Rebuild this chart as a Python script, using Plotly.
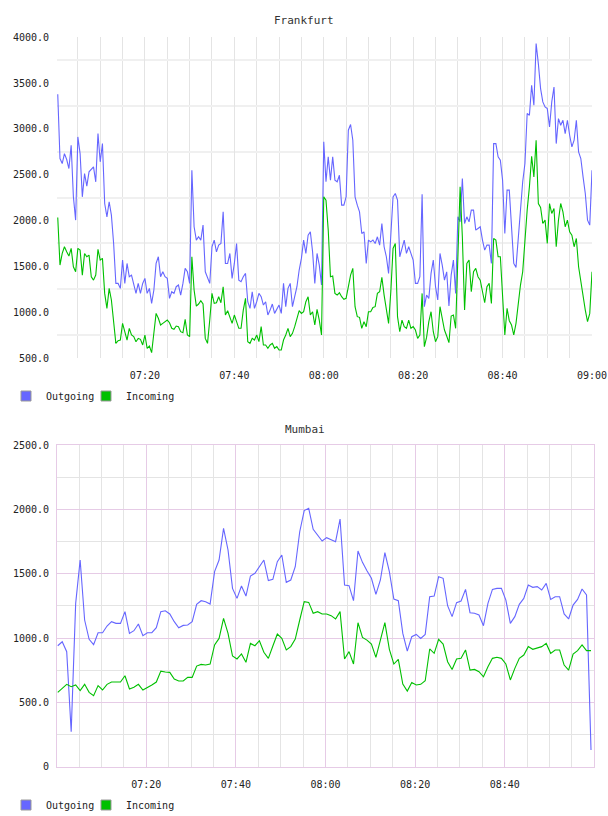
import pandas as pd
import plotly.graph_objects as go

# ---------------- data ----------------
fra_out = [3378, 2677, 2622, 2731, 2666, 2568, 2822, 2259, 2005, 2913, 2731, 2259, 2513, 2375, 2532, 2557, 2586, 2423, 2949, 2641,
           2840, 2186, 2041, 2205, 2059, 1750, 1314, 1314, 1260, 1569, 1314, 1532, 1387, 1405, 1314, 1205, 1314, 1205, 1314, 1369,
           1205, 1260, 1096, 1242, 1532, 1605, 1387, 1441, 1387, 1369, 1151, 1223, 1205, 1278, 1296, 1187, 1314, 1478, 1441, 1314,
           2550, 1932, 1787, 1823, 1787, 1950, 1441, 1369, 1314, 1714, 1787, 1659, 1732, 1750, 2095, 1532, 1532, 1641, 1369, 1532,
           1750, 1350, 1332, 1387, 1423, 1114, 1042, 1223, 1042, 1114, 1205, 1169, 1078, 1114, 969, 1023, 1089, 987, 1042, 1078,
           987, 1314, 1060, 1260, 1314, 1060, 1169, 1278, 1460, 1587, 1787, 1641, 1841, 1877, 1659, 1314, 1641, 1514, 1296,
           2859, 2423, 2695, 2441, 2695, 2441, 2423, 2495, 2168, 2168, 2259, 2986, 3048, 2877, 2259, 2168, 2095, 1859, 1877, 1532,
           1787, 1768, 1787, 1750, 1823, 1732, 1968, 1714, 1605, 1423, 1896, 2259, 2295, 2223, 1605, 1714, 1787, 1641, 1714, 1641,
           1569, 1314, 1314, 1387, 2288, 1060, 1187, 1151, 1423, 1569, 1278, 1133, 1641, 1514, 1350, 1441, 1067, 1405, 1569, 1205,
           2041, 1986, 2459, 1968, 2041, 1986, 2114, 2114, 1896, 1914, 1932, 1787, 1677, 1732, 1732, 1532, 2840, 2840, 2695, 2659,
           2441, 1859, 2332, 2332, 1986, 1532, 1489, 1805, 2041, 2423, 2622, 3168, 3149, 3476, 3258, 3931, 3713, 3440, 3295, 3240,
           3222, 3022, 3295, 3458, 2840, 3113, 3040, 3095, 2949, 3095, 2931, 2804, 2877, 3095, 2750, 2677, 2477, 2295, 2005, 1950,
           2550]
fra_in = [2034, 1514, 1641, 1714, 1659, 1612, 1696, 1496, 1441, 1696, 1677, 1405, 1641, 1605, 1623, 1387, 1350, 1405, 1685, 1569,
          1587, 1205, 1042, 1260, 1133, 878, 660, 689, 696, 878, 787, 696, 824, 751, 733, 678, 714, 704, 642, 751,
          606, 631, 558, 787, 987, 933, 860, 878, 896, 914, 885, 824, 813, 849, 842, 787, 776, 922, 751, 733,
          1605, 1242, 1067, 1089, 1125, 1089, 714, 660, 914, 1205, 1096, 1103, 1169, 1103, 1278, 969, 1016, 951, 878, 969,
          885, 824, 824, 1023, 1151, 678, 660, 714, 696, 751, 678, 842, 642, 642, 606, 642, 660, 606, 624, 588,
          588, 696, 751, 824, 733, 769, 842, 922, 1016, 987, 1005, 1114, 1169, 969, 1005, 860, 1031, 914, 751,
          2259, 2223, 1896, 1387, 1394, 1205, 1187, 1212, 1169, 1140, 1151, 1278, 1405, 1478, 1060, 951, 944, 824, 896, 842,
          1005, 1005, 1052, 1060, 1205, 1223, 1380, 1187, 1023, 878, 1223, 1696, 1750, 951, 787, 914, 842, 824, 914, 824,
          842, 805, 714, 751, 1205, 624, 725, 896, 1005, 787, 678, 733, 1060, 914, 805, 740, 667, 958, 969, 824,
          1532, 2368, 1823, 1023, 1532, 1569, 1223, 1441, 1478, 1387, 1350, 1242, 1103, 1278, 1314, 1096, 1805, 1787, 1605, 1605,
          1205, 751, 1042, 907, 860, 751, 878, 1114, 1296, 1441, 1805, 2114, 2368, 2702, 2477, 2877, 2186, 2143, 1968, 2005,
          1750, 2186, 2077, 2132, 1714, 2005, 2186, 2095, 1932, 2005, 1877, 1841, 1714, 1805, 1496, 1332, 1169, 1023, 896, 987,
          1441]

mum_out = [940, 971, 894, 272, 1269, 1606, 1140, 990, 948, 1041, 1041, 1093, 1127, 1114, 1114, 1205, 1036, 1057, 1109, 1018,
           1041, 1041, 1080, 1205, 1212, 1187, 1127, 1080, 1098, 1101, 1127, 1262, 1290, 1282, 1264, 1516, 1606, 1852, 1684, 1386,
           1308, 1404, 1326, 1482, 1503, 1560, 1606, 1446, 1456, 1593, 1645, 1433, 1451, 1554, 1826, 1990, 2008, 1845, 1801, 1754,
           1780, 1767, 1749, 1925, 1412, 1407, 1290, 1676, 1588, 1523, 1464, 1339, 1451, 1663, 1516, 1303, 1290, 1036, 899, 1010,
           1028, 997, 1028, 1321, 1326, 1477, 1464, 1251, 1166, 1275, 1288, 1378, 1197, 1192, 1179, 1096, 1269, 1378, 1386, 1386,
           1295, 1114, 1166, 1262, 1308, 1412, 1394, 1399, 1373, 1425, 1300, 1321, 1321, 1187, 1148, 1256, 1300, 1381, 1334, 129]
mum_in = [578, 609, 640, 622, 635, 591, 640, 578, 552, 630, 596, 640, 658, 658, 658, 707, 604, 617, 640, 596,
          614, 635, 658, 743, 736, 733, 681, 666, 666, 694, 694, 782, 795, 790, 798, 946, 997, 1153, 1036, 860,
          837, 876, 811, 958, 940, 979, 889, 842, 938, 1031, 997, 907, 933, 992, 1140, 1282, 1277, 1192, 1205, 1187,
          1187, 1174, 1148, 1205, 837, 894, 798, 1119, 1005, 984, 953, 850, 984, 1119, 912, 798, 834, 642, 588, 655,
          635, 640, 668, 915, 881, 990, 953, 816, 756, 837, 842, 907, 751, 756, 738, 699, 777, 842, 850, 842,
          798, 674, 764, 842, 868, 933, 912, 920, 933, 958, 881, 907, 907, 790, 751, 876, 902, 946, 902, 902]

series_names = ["Outgoing", "Incoming"]
chart_titles = ["Frankfurt", "Mumbai"]
fra_ytick_vals = [500, 1000, 1500, 2000, 2500, 3000, 3500, 4000]
fra_ytick_text = ["500.0", "1000.0", "1500.0", "2000.0", "2500.0", "3000.0", "3500.0", "4000.0"]
fra_ygrid_vals = [750, 1250, 1750, 2250, 2750, 3250, 3750]
mum_ytick_vals = [0, 500, 1000, 1500, 2000, 2500]
mum_ytick_text = ["0", "500.0", "1000.0", "1500.0", "2000.0", "2500.0"]

fra_out_t = pd.date_range("2024-01-01 07:00:30", periods=len(fra_out), freq="30s")
fra_in_t = pd.date_range("2024-01-01 07:00:30", periods=len(fra_in), freq="30s")
mum_out_t = pd.date_range("2024-01-01 07:00:15", periods=len(mum_out), freq="60s")
mum_in_t = pd.date_range("2024-01-01 07:00:15", periods=len(mum_in), freq="60s")

# ---------------- style ----------------
BLUE = "#6666ff"
GREEN = "#00c000"
FONT = "DejaVu Sans Mono"
W, H = 608, 816
L, R = 57, 14
PW = W - L - R


def py(px):
    return 1 - px / H


def pxx(px):
    return (px - L) / PW


fig = go.Figure()

for t, v, c, ax in [(fra_out_t, fra_out, BLUE, ("x", "y")), (fra_in_t, fra_in, GREEN, ("x", "y")),
                    (mum_out_t, mum_out, BLUE, ("x2", "y2")), (mum_in_t, mum_in, GREEN, ("x2", "y2"))]:
    fig.add_trace(go.Scatter(x=t, y=v, mode="lines", line=dict(color=c, width=1.1),
                             xaxis=ax[0], yaxis=ax[1], showlegend=False, hoverinfo="skip"))

# legend entries (square swatches)
for lg, ax in [("legend", ("x", "y")), ("legend2", ("x2", "y2"))]:
    for i, (name, c) in enumerate(zip(series_names, [BLUE, GREEN])):
        kw = dict(legendwidth=35) if i == 0 else {}
        fig.add_trace(go.Scatter(x=[None], y=[None], mode="markers", name=name, legend=lg,
                                 marker=dict(symbol="square", size=10, color=c, line=dict(color="#999999", width=1)),
                                 xaxis=ax[0], yaxis=ax[1], **kw))

tickfont = dict(family=FONT, size=10, color="#222222")
GRAY = "#e4e4e4"
PURPLE = "#e6cbe6"
MIN20 = 20 * 60 * 1000
MIN5 = 5 * 60 * 1000

legend_common = dict(orientation="h", xanchor="left", yanchor="middle", xref="container", yref="container",
                     font=dict(family=FONT, size=10, color="#222222"), bgcolor="rgba(0,0,0,0)",
                     itemwidth=30, tracegroupgap=0)

fig.update_layout(
    width=W, height=H,
    margin=dict(l=L, r=R, t=0, b=0, autoexpand=False),
    paper_bgcolor="white", plot_bgcolor="white",
    font=dict(family=FONT, size=10, color="#222222"),
    xaxis=dict(domain=[0, pxx(592)], anchor="y", type="date",
               range=["2024-01-01 07:00:20", "2024-01-01 09:00:00"],
               tick0="2024-01-01 07:00:00", dtick=MIN20, tickformat="%H:%M",
               showgrid=True, gridcolor=GRAY, gridwidth=1,
               minor=dict(dtick=MIN5, tick0="2024-01-01 07:00:00", showgrid=True, gridcolor=GRAY, gridwidth=1),
               ticks="outside", ticklen=8, tickcolor="rgba(0,0,0,0)", automargin=False,
               zeroline=False, showline=False, tickfont=tickfont),
    yaxis=dict(domain=[py(358), py(37.3)], anchor="x", range=[500, 4000],
               tickvals=fra_ytick_vals, ticktext=fra_ytick_text, showgrid=False,
               minor=dict(tickvals=fra_ygrid_vals, showgrid=True, gridcolor="#f0f0f0", gridwidth=2),
               ticks="outside", ticklen=5, tickcolor="rgba(0,0,0,0)", automargin=False,
               zeroline=False, showline=False, tickfont=tickfont),
    xaxis2=dict(domain=[0, 1], anchor="y2", type="date",
                range=["2024-01-01 07:00:05", "2024-01-01 08:59:55"],
                tick0="2024-01-01 07:00:00", dtick=MIN20, tickformat="%H:%M",
                showgrid=True, gridcolor=PURPLE, gridwidth=1,
                minor=dict(dtick=MIN5, tick0="2024-01-01 07:00:00", showgrid=True, gridcolor=GRAY, gridwidth=1),
                ticks="outside", ticklen=8, tickcolor="rgba(0,0,0,0)", automargin=False,
                zeroline=False, showline=True, linecolor=PURPLE, linewidth=1, mirror=True, tickfont=tickfont),
    yaxis2=dict(domain=[py(766.7), py(445)], anchor="x2", range=[0, 2500],
                tickvals=mum_ytick_vals, ticktext=mum_ytick_text,
                showgrid=True, gridcolor=PURPLE, gridwidth=1,
                minor=dict(dtick=250, tick0=0, showgrid=True, gridcolor=GRAY, gridwidth=1),
                ticks="outside", ticklen=5, tickcolor="rgba(0,0,0,0)", automargin=False,
                zeroline=False, showline=True, linecolor=PURPLE, linewidth=1, mirror=True, tickfont=tickfont),
    legend=dict(x=6 / W, y=py(396), **legend_common),
    legend2=dict(x=6 / W, y=py(805), **legend_common),
    annotations=[
        dict(text=chart_titles[0], x=pxx(304), y=py(20), xref="paper", yref="paper",
             showarrow=False, font=dict(family=FONT, size=11, color="#333333"), xanchor="center", yanchor="middle"),
        dict(text=chart_titles[1], x=pxx(305), y=py(429), xref="paper", yref="paper",
             showarrow=False, font=dict(family=FONT, size=11, color="#333333"), xanchor="center", yanchor="middle"),
    ],
)

fig.write_html("out.html")
